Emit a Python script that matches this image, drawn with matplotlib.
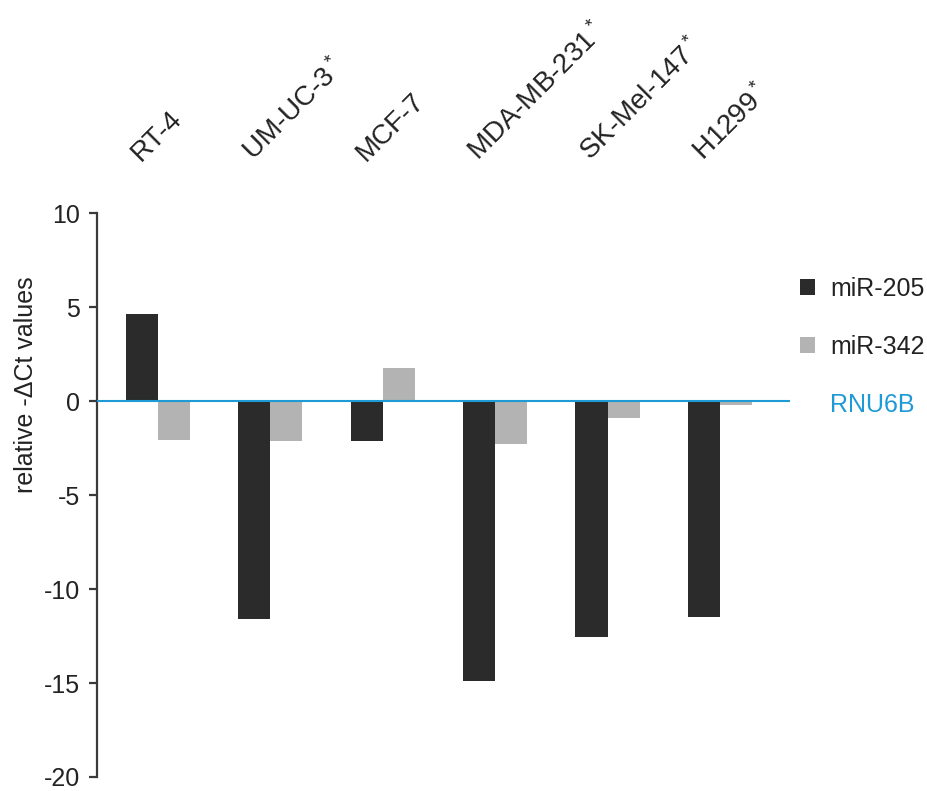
import numpy as np
import matplotlib
matplotlib.use("Agg")
import matplotlib.pyplot as plt
from matplotlib.lines import Line2D

plt.rcParams['font.family'] = ['Liberation Sans', 'DejaVu Sans']
plt.rcParams['mathtext.fontset'] = 'custom'
plt.rcParams['mathtext.rm'] = 'Liberation Sans'
plt.rcParams['mathtext.default'] = 'regular'

# cell lines and relative -dCt values (normalised to RNU6B)
cell_lines = ['RT-4', 'UM-UC-3$^*$', 'MCF-7', 'MDA-MB-231$^*$', 'SK-Mel-147$^*$', 'H1299$^*$']
mir205 = [4.65, -11.6, -2.15, -14.9, -12.55, -11.5]
mir342 = [-2.1, -2.15, 1.75, -2.3, -0.9, -0.2]
series_names = ['miR-205', 'miR-342']
ref_name = 'RNU6B'
yticks = [10, 5, 0, -5, -10, -15, -20]

dark = '#2b2b2b'
light = '#b3b3b3'
blue = '#1e9ad6'
axis_col = '#3a3a3a'
txt = '#222222'

fig = plt.figure(figsize=(9.28, 7.91), dpi=100)
ax = fig.add_axes([0.1045, 0.0177, 0.7465, 0.713])

x = np.arange(len(cell_lines))
w = 0.285
b1 = ax.bar(x - w / 2, mir205, w, color=dark, zorder=2)
b2 = ax.bar(x + w / 2, mir342, w, color=light, zorder=2)
ax.axhline(0, color=blue, lw=1.5, zorder=3)

ax.set_xlim(-0.54, 5.62)
ax.set_ylim(-20, 10)
ax.set_yticks(yticks)
ax.set_yticklabels([str(v) for v in yticks], fontsize=18, color=txt)
ax.set_xticks([])
for s in ['top', 'right', 'bottom']:
    ax.spines[s].set_visible(False)
ax.spines['left'].set_color(axis_col)
ax.spines['left'].set_linewidth(1.6)
ax.tick_params(axis='y', length=6, width=1.6, color=axis_col, pad=6)

ax.set_ylabel('relative -ΔCt values', fontsize=18, color=txt)
ax.yaxis.set_label_coords(-0.085, 0.695)

# rotated cell line labels above the plot
for xi, name in zip(x, cell_lines):
    ax.text(xi - 0.11, 1.0 + 47 / 565, name, transform=ax.get_xaxis_transform(),
            rotation=45, rotation_mode='anchor', ha='left', va='bottom',
            fontsize=20, color=txt)

handles = [b1, b2, Line2D([], [], lw=0)]
leg = fig.legend(handles, series_names + [ref_name], loc='upper left',
                 bbox_to_anchor=(0.862, 1 - 277 / 791), frameon=False,
                 fontsize=18, handlelength=0.6, handleheight=0.6,
                 handletextpad=0.6, labelspacing=1.36, borderpad=0,
                 borderaxespad=0)
leg.get_texts()[2].set_color(blue)
for t in leg.get_texts()[:2]:
    t.set_color(txt)

fig.savefig('out.png', dpi=100)
